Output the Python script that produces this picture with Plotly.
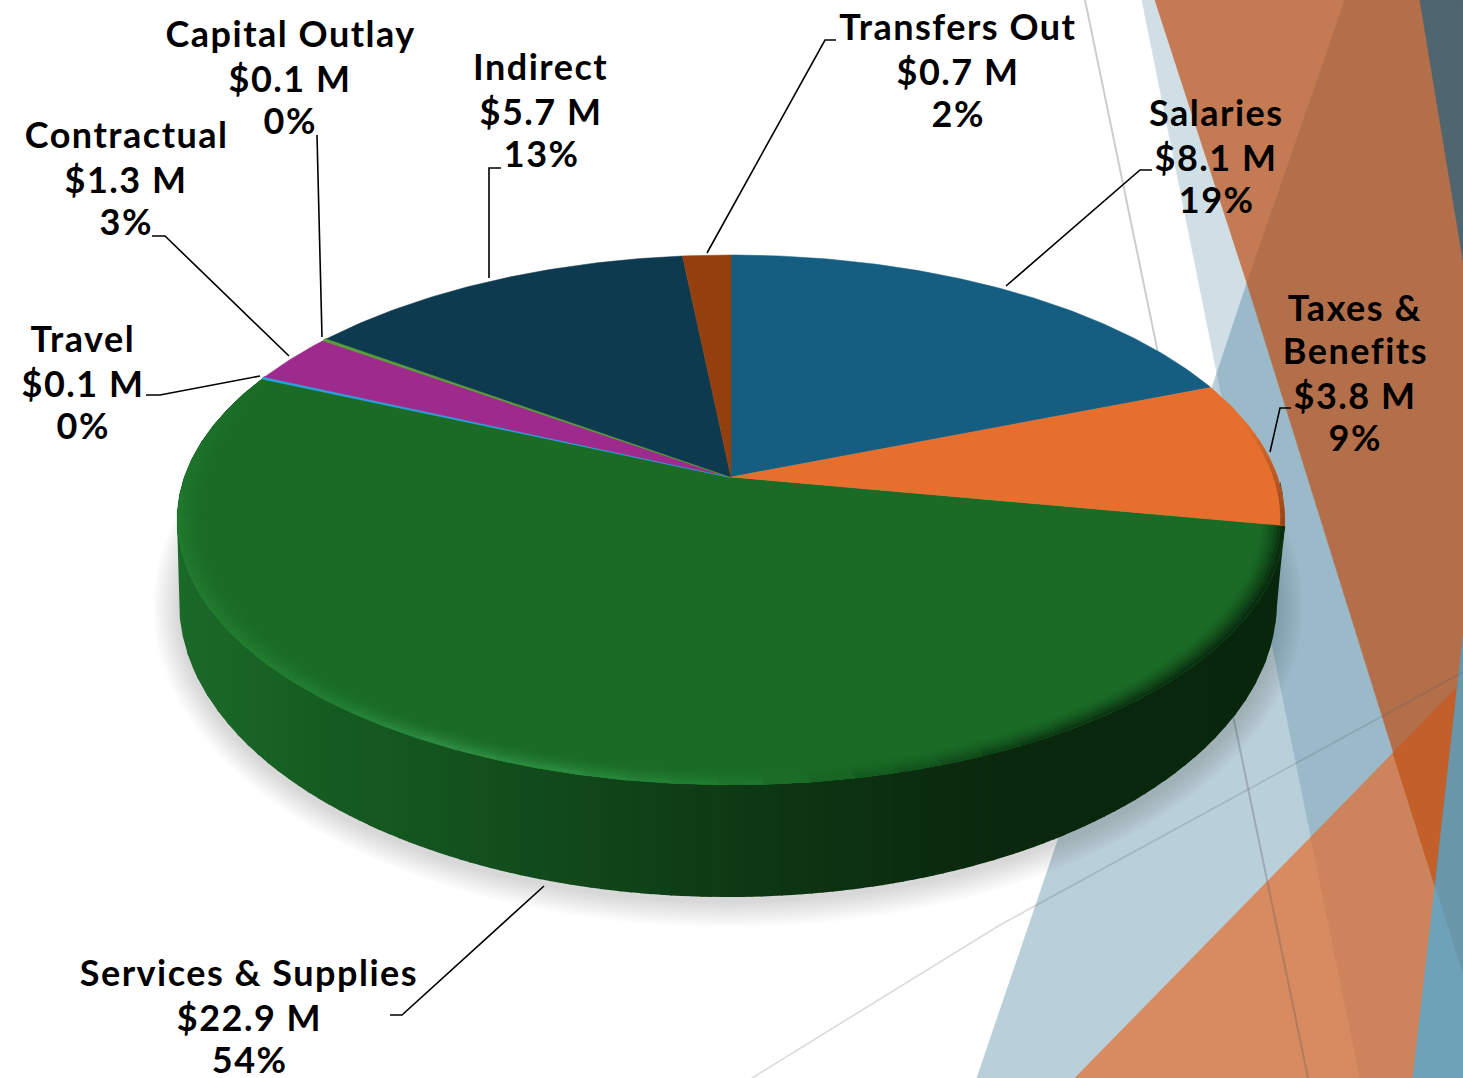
import math
import plotly.graph_objects as go

# ---------- data ----------
categories = ["Salaries", "Taxes & Benefits", "Services & Supplies", "Travel",
              "Contractual", "Capital Outlay", "Indirect", "Transfers Out"]
values_musd = [8.1, 3.8, 22.9, 0.05, 1.3, 0.06, 5.7, 0.7]
slice_colors = ["#155e82", "#e66f2e", "#1a6b26", "#2c9fd8",
                "#9e2a8d", "#5a9e3a", "#0e3a50", "#93400e"]
label_lines = [["Salaries"], ["Taxes &", "Benefits"], ["Services & Supplies"], ["Travel"],
               ["Contractual"], ["Capital Outlay"], ["Indirect"], ["Transfers Out"]]
label_x = [1216, 1355, 249, 83, 126, 290, 541, 958]
label_y = [112, 307, 972, 338, 134, 33, 66, 26]
LINE_H = 43.4
FONT = "Lato"
FONT_SIZE = 36

leaders = [
    [(1152, 170), (1140, 170), (1006, 286)],
    [(1291, 408), (1280, 408), (1270, 452)],
    [(390, 1015), (402, 1015), (544, 886)],
    [(146, 395), (160, 395), (260, 376)],
    [(152, 236), (165, 236), (289, 356)],
    [(317, 135), (322, 337)],
    [(501, 168), (489, 168), (489, 278)],
    [(836, 40), (825, 40), (707, 253)],
]

# wall shading stops (screen x, colour)
wall_stops = [(177, "#1b6a29"), (300, "#165e22"), (420, "#14551f"), (550, "#114a1b"),
              (700, "#0f3c15"), (800, "#0d3413"), (1000, "#0a280d"), (1285, "#08260c")]
# rim shading stops
rim_stops = [(177, "#207a2e"), (330, "#227f32"), (430, "#2e8a42"), (560, "#2a8a3d"),
             (720, "#1f7a2e"), (880, "#145a20"), (1050, "#0d3a14"), (1285, "#0a2c0f")]

# ---------- geometry of the tilted disc ----------
CX, CY, K, A, B = 731.0, 477.0, 0.162, 258.0, 546.6
BX, BY, BRX, BRY = 728.0, 602.0, 549.0, 295.0
X_MIN, X_MAX = 177.0, 1285.0


def proj(theta, r=1.0):
    u, v = r * math.sin(theta), r * math.cos(theta)
    d = 1 + K * v
    return CX + B * u / d, CY - A * v / d


def hex2rgb(h):
    return tuple(int(h[i:i + 2], 16) for i in (1, 3, 5))


def mix(c1, c2, t):
    a, b = hex2rgb(c1), hex2rgb(c2)
    return "#%02x%02x%02x" % tuple(round(a[i] + (b[i] - a[i]) * t) for i in range(3))


def ramp(stops, x):
    if x <= stops[0][0]:
        return stops[0][1]
    for (x0, c0), (x1, c1) in zip(stops, stops[1:]):
        if x <= x1:
            return mix(c0, c1, (x - x0) / (x1 - x0))
    return stops[-1][1]


def poly(xs, ys, color, line=0.0, name=None):
    return go.Scatter(x=xs, y=ys, mode="lines", fill="toself", fillcolor=color,
                      line=dict(color=color, width=line), hoverinfo="skip" if name is None else "text",
                      text=name, showlegend=False)


fig = go.Figure()

# background decoration
bg_polys = [
    ([(1142, 0), (1155, 0), (1247, 283), (1217, 373)], "#d0dfe6"),
    ([(1217, 373), (1360, 1078), (977, 1078)], "#b9cfda"),
    ([(1217, 373), (1247, 283), (1463, 975), (1463, 1078), (1360, 1078)], "#9ab9c9"),
    ([(1155, 0), (1345, 0), (1247, 283)], "#c47a53"),
    ([(1345, 0), (1463, 0), (1463, 975), (1247, 283)], "#b36e4a"),
    ([(1420, 0), (1463, 0), (1463, 260)], "#4f6570"),
    ([(1075, 1078), (1311, 837), (1360, 1078)], "#d88b60"),
    ([(1311, 837), (1393, 753), (1463, 975), (1463, 1078), (1360, 1078)], "#cd845c"),
    ([(1393, 753), (1463, 681), (1463, 975)], "#c25f2a"),
    ([(1463, 637), (1435, 886), (1463, 975)], "#6a96aa"),
    ([(1435, 886), (1413, 1078), (1463, 1078), (1463, 975)], "#6da2b9"),
]
shapes = []
for pts, col in bg_polys:
    path = "M " + " L ".join(f"{x},{y}" for x, y in pts) + " Z"
    shapes.append(dict(type="path", path=path, fillcolor=col, line=dict(width=0.8, color=col), layer="below"))
shapes.append(dict(type="line", x0=1085, y0=0, x1=1308, y1=1078, layer="below",
                   line=dict(color="rgba(90,90,90,0.30)", width=2)))
shapes.append(dict(type="path", path="M 752,1078 L 1000,925 L 1463,672", layer="below",
                   line=dict(color="rgba(90,90,90,0.22)", width=1.6)))

# soft shadow
N = 120
for e in range(26, 0, -2):
    xs = [BX + (BRX + e) * math.cos(2 * math.pi * i / N) for i in range(N + 1)]
    ys = [BY + 4 + (BRY + e) * math.sin(2 * math.pi * i / N) for i in range(N + 1)]
    fig.add_trace(poly(xs, ys, "rgba(60,60,60,0.016)"))


def rim_y(x):
    lo, hi = math.radians(90), math.radians(270)
    best = None
    for i in range(1441):
        t = lo + (hi - lo) * i / 1440
        px, py = proj(t)
        if best is None or abs(px - x) < best[0]:
            best = (abs(px - x), py)
    return best[1]


def bottom_y(x):
    # silhouette of the wall: bottom ellipse, closing up to the rim at both extremes
    if x < BX - BRX:
        return 520 + (BY - 520) * (x - X_MIN) / (BX - BRX - X_MIN)
    if x > BX + BRX:
        return 525 + (BY - 525) * (X_MAX - x) / (X_MAX - BX - BRX)
    q = (x - BX) / BRX
    return BY + BRY * math.sqrt(max(0.0, 1 - q * q))


# side wall strips (each one overlaps the next so no seams appear)
STRIPS = 110
for i in range(STRIPS):
    x0 = X_MIN + (X_MAX - X_MIN) * i / STRIPS
    x1 = min(X_MAX, X_MIN + (X_MAX - X_MIN) * (i + 1) / STRIPS + 1.5)
    xs, ys = [], []
    for j in range(5):
        x = x0 + (x1 - x0) * j / 4
        xs.append(x)
        ys.append(bottom_y(x))
    for j in range(5):
        x = x1 - (x1 - x0) * j / 4
        xs.append(x)
        ys.append(rim_y(x) - 3)
    fig.add_trace(poly(xs, ys, ramp(wall_stops, (x0 + x1) / 2)))

# top-face slices: the big slice first, so thin neighbours stay on top of its bevel
total = sum(values_musd)
cum = 0.0
bounds = []
for val in values_musd:
    t0 = cum / total * 2 * math.pi
    cum += val
    bounds.append((t0, cum / total * 2 * math.pi))

FACE = slice_colors[2]
gt0, gt1 = bounds[2]


def add_slice(idx):
    val, col, cat = values_musd[idx], slice_colors[idx], categories[idx]
    t0, t1 = bounds[idx]
    n = max(3, int((t1 - t0) * 90))
    arc = [proj(t0 + (t1 - t0) * i / n) for i in range(n + 1)]
    xs = [CX] + [p[0] for p in arc] + [CX]
    ys = [CY] + [p[1] for p in arc] + [CY]
    fig.add_trace(poly(xs, ys, col, line=2.0 if val < 0.1 else 0.5, name=f"{cat}: ${val} M"))


add_slice(2)

# bevel on the big slice, fading out towards its far end
SEG = 48
RINGS = 7
for i in range(SEG):
    a0 = gt0 + (gt1 - gt0) * i / SEG
    a1 = gt0 + (gt1 - gt0) * (i + 1) / SEG + 0.004
    mid = (a0 + a1) / 2
    xm = proj(mid)[0]
    col = ramp(rim_stops, xm)
    fade = min(1.0, (gt1 - mid) / math.radians(35))
    for k in range(RINGS):
        r0 = 0.958 + (1.0 - 0.958) * k / RINGS
        w = ((k + 1) / RINGS) ** 1.5 * fade
        arc = [proj(a0, 1.0), proj(a1, 1.0), proj(a1, r0), proj(a0, r0)]
        fig.add_trace(poly([p[0] for p in arc], [p[1] for p in arc], mix(FACE, col, w)))

for idx in range(len(values_musd)):
    if idx != 2:
        add_slice(idx)

# darkened edge of the orange slice
ot0, ot1 = bounds[1]
for i in range(12):
    a0 = ot0 + (ot1 - ot0) * (0.3 + 0.7 * i / 12)
    a1 = ot0 + (ot1 - ot0) * (0.3 + 0.7 * (i + 1) / 12)
    arc = [proj(a0, 1.0), proj(a1, 1.0), proj(a1, 0.992), proj(a0, 0.992)]
    fig.add_trace(poly([p[0] for p in arc], [p[1] for p in arc],
                       mix(slice_colors[1], "#6e3413", 0.7 * (i + 1) / 12)))

# leader lines
for pts in leaders:
    fig.add_trace(go.Scatter(x=[p[0] for p in pts], y=[p[1] for p in pts], mode="lines",
                             line=dict(color="#000000", width=1.6), hoverinfo="skip", showlegend=False))

# labels
annotations = []
for val, lines, lx, ly in zip(values_musd, label_lines, label_x, label_y):
    pct = round(val / total * 100)
    full = lines + [f"${val:.1f} M", f"{pct}%"]
    for i, line in enumerate(full):
        nudge = 1.5 if line.startswith("$") else 0
        annotations.append(dict(x=lx, y=ly + i * LINE_H + nudge, text=f"<b>{line}</b>", showarrow=False,
                                xanchor="center", yanchor="middle",
                                font=dict(family=FONT, size=FONT_SIZE, color="#000000")))

fig.update_layout(
    width=1463, height=1078, margin=dict(l=0, r=0, t=0, b=0),
    paper_bgcolor="#ffffff", plot_bgcolor="#ffffff", showlegend=False,
    xaxis=dict(range=[0, 1463], visible=False, fixedrange=True),
    yaxis=dict(range=[1078, 0], visible=False, fixedrange=True),
    shapes=shapes, annotations=annotations,
)
fig.write_html("out.html", config={"displayModeBar": False},
               post_script="document.body.style.margin='0';document.body.style.overflow='hidden';"
                           "document.querySelectorAll('.annotation-text').forEach(function(t){t.style.letterSpacing='1.5px';});")
